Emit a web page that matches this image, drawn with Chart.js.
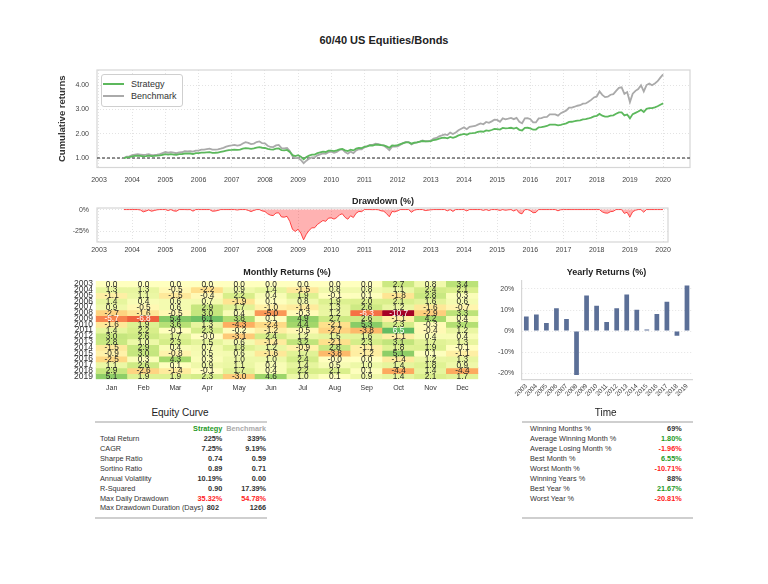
<!DOCTYPE html>
<html><head><meta charset="utf-8">
<script src="https://cdn.jsdelivr.net/npm/chart.js@4.4.1/dist/chart.umd.min.js"></script>
<style>
html,body{margin:0;padding:0;background:#fff;}
body{width:768px;height:584px;position:relative;overflow:hidden;font-family:"Liberation Sans",Arial,sans-serif;color:#333;}
canvas{position:absolute;}
.t{position:absolute;white-space:nowrap;line-height:12px;}
.hl{position:absolute;height:2px;background:#cfcfcf;}
</style></head><body>
<canvas id="cum" width="645" height="130" style="left:55px;top:60px"></canvas>
<canvas id="dd" width="623" height="60" style="left:55px;top:200px"></canvas>
<canvas id="heat" width="440" height="125" style="left:45px;top:275px"></canvas>
<canvas id="yearly" width="210" height="135" style="left:490px;top:275px"></canvas>
<script>
// ---------------- DATA ----------------
const seriesNames = ['Strategy', 'Benchmark'];
const seriesStart = 2003.75; // monthly points from Oct 2003
const strategyCum = [
1.000,
1.027,1.035,1.070,
1.084,1.098,1.092,1.069,1.079,1.094,1.077,1.086,1.095,1.106,1.132,1.156,
1.143,1.156,1.139,1.134,1.159,1.164,1.186,1.185,1.186,1.165,1.198,1.201,
1.218,1.223,1.230,1.238,1.215,1.217,1.226,1.250,1.275,1.302,1.323,1.332,
1.344,1.337,1.345,1.384,1.407,1.393,1.375,1.393,1.428,1.444,1.422,1.412,
1.374,1.352,1.345,1.386,1.391,1.322,1.318,1.333,1.249,1.116,1.083,1.119,
1.055,0.950,1.037,1.100,1.142,1.143,1.199,1.231,1.263,1.249,1.302,1.307,
1.286,1.311,1.358,1.375,1.316,1.285,1.341,1.313,1.383,1.414,1.410,1.462,
1.483,1.515,1.514,1.549,1.546,1.527,1.519,1.478,1.422,1.515,1.509,1.527,
1.573,1.614,1.641,1.641,1.590,1.628,1.648,1.672,1.699,1.681,1.687,1.694,
1.741,1.759,1.799,1.826,1.837,1.811,1.869,1.830,1.872,1.930,1.963,1.988,
1.958,2.015,2.023,2.037,2.074,2.099,2.080,2.138,2.115,2.153,2.194,2.192,
2.172,2.237,2.219,2.230,2.244,2.208,2.245,2.160,2.134,2.243,2.245,2.220,
2.165,2.171,2.265,2.271,2.294,2.317,2.373,2.373,2.373,2.340,2.368,2.399,
2.425,2.488,2.491,2.513,2.541,2.551,2.587,2.600,2.626,2.663,2.711,2.735,
2.814,2.741,2.703,2.700,2.746,2.757,2.818,2.877,2.880,2.753,2.792,2.630,
2.805,2.858,2.912,2.979,2.890,3.023,3.053,3.056,3.084,3.127,3.193,3.247
];
const benchmarkCum = [
1.000,
1.056,1.066,1.122,
1.143,1.159,1.141,1.124,1.139,1.161,1.123,1.127,1.140,1.157,1.204,1.245,
1.217,1.242,1.220,1.197,1.235,1.237,1.283,1.271,1.282,1.261,1.307,1.308,
1.344,1.347,1.364,1.383,1.343,1.345,1.354,1.385,1.421,1.468,1.495,1.516,
1.540,1.509,1.526,1.595,1.649,1.623,1.573,1.596,1.656,1.683,1.611,1.600,
1.505,1.455,1.448,1.520,1.538,1.408,1.397,1.416,1.289,1.073,0.994,1.003,
0.919,0.790,0.891,0.976,1.029,1.031,1.109,1.148,1.191,1.170,1.239,1.263,
1.218,1.255,1.331,1.353,1.244,1.179,1.262,1.204,1.311,1.362,1.361,1.452,
1.488,1.537,1.538,1.585,1.566,1.540,1.509,1.426,1.325,1.470,1.465,1.480,
1.547,1.613,1.666,1.656,1.555,1.619,1.642,1.677,1.721,1.689,1.697,1.711,
1.801,1.823,1.892,1.929,1.972,1.946,2.045,1.985,2.047,2.141,2.205,2.260,
2.184,2.281,2.301,2.319,2.372,2.421,2.388,2.482,2.447,2.508,2.574,2.567,
2.492,2.633,2.591,2.617,2.649,2.598,2.653,2.491,2.429,2.635,2.640,2.598,
2.470,2.464,2.630,2.642,2.686,2.693,2.793,2.794,2.795,2.745,2.844,2.900,
2.957,3.072,3.076,3.109,3.150,3.170,3.237,3.244,3.312,3.391,3.492,3.532,
3.737,3.597,3.506,3.521,3.603,3.626,3.762,3.882,3.905,3.640,3.711,3.300,
3.648,3.763,3.836,3.994,3.737,4.001,4.060,3.993,4.069,4.158,4.307,4.437
];
const drawdownPct = [
0,
0,0,0,
0,0,-0.5,-2.6,-1.7,-0.4,-1.9,-1.1,-0.3,0,0,0,
-1.1,0,-1.5,-1.9,0,0,0,-0.1,0,-1.8,0,0,
0,0,0,0,-1.9,-1.7,-1.0,0,0,0,0,0,
0,-0.5,0,0,0,-1.0,-2.3,-1.0,0,0,-1.5,-2.2,
-4.8,-6.4,-6.9,-4.0,-3.7,-8.4,-8.7,-7.7,-13.5,-22.7,-25.0,-22.5,
-26.9,-34.6,-28.2,-23.8,-20.9,-20.8,-17.0,-14.8,-12.5,-13.5,-9.8,-9.5,
-10.9,-9.2,-6.0,-4.8,-8.9,-11.0,-7.1,-9.1,-4.2,-2.1,-2.4,0,
0,0,-0.1,0,-0.2,-1.4,-1.9,-4.6,-8.2,-2.2,-2.6,-1.4,
0,0,0,0,-3.1,-0.8,0,0,0,-1.1,-0.7,-0.3,
0,0,0,0,0,-1.4,0,-2.1,0,0,0,0,
-1.5,0,0,0,0,0,-0.9,0,-1.1,0,0,-0.1,
-1.0,0,-0.8,-0.3,0,-1.6,0,-3.8,-4.9,-0.1,0,-1.1,
-3.6,-3.3,0,0,0,0,0,0,0,-1.4,-0.2,0,
0,0,0,0,0,0,0,0,0,0,0,0,
0,-2.6,-3.9,-4.1,-2.4,-2.0,0,0,0,-4.4,-3.1,-8.7,
-2.6,-0.8,0,0,-3.0,0,0,0,0,0,0,0
];
const baseline = 1.0;
const yearTicks = [2003,2004,2005,2006,2007,2008,2009,2010,2011,2012,2013,2014,2015,2016,2017,2018,2019,2020];
const cumTicks = [1,2,3,4];
const ddTicks = [0,-25];

const monthLabels = ['Jan','Feb','Mar','Apr','May','Jun','Jul','Aug','Sep','Oct','Nov','Dec'];
const heatYears = ['2003','2004','2005','2006','2007','2008','2009','2010','2011','2012','2013','2014','2015','2016','2017','2018','2019'];
const monthlyReturns = [
[0.0,0.0,0.0,0.0,0.0,0.0,0.0,0.0,0.0,2.7,0.8,3.4],
[1.3,1.3,-0.5,-2.2,0.9,1.4,-1.5,0.8,0.8,1.1,2.4,2.1],
[-1.1,1.1,-1.5,-0.4,2.2,0.4,1.9,-0.1,0.1,-1.8,2.8,0.3],
[1.4,0.4,0.6,0.7,-1.9,0.1,0.8,1.9,2.0,2.1,1.6,0.6],
[0.9,-0.5,0.6,2.9,1.7,-1.0,-1.4,1.3,2.6,1.2,-1.6,-0.7],
[-2.7,-1.6,-0.5,3.0,0.4,-5.0,-0.3,1.2,-6.3,-10.7,-2.9,3.3],
[-5.7,-6.8,5.4,6.1,3.8,0.1,4.9,2.7,2.6,-1.1,4.2,0.4],
[-1.6,1.9,3.6,1.3,-4.3,-2.4,4.4,-2.1,5.3,2.3,-0.3,3.7],
[1.4,2.2,-0.1,2.3,-0.2,-1.2,-0.5,-2.7,-3.8,6.5,-0.4,1.2],
[3.0,2.6,1.7,-0.04,-3.1,2.4,1.2,1.5,1.6,-1.1,0.4,0.4],
[2.8,1.0,2.3,1.5,0.6,-1.4,3.2,-2.1,2.3,3.1,1.7,1.3],
[-1.5,2.9,0.4,0.7,1.8,1.2,-0.9,2.8,-1.1,1.8,1.9,-0.1],
[-0.9,3.0,-0.8,0.5,0.6,-1.6,1.7,-3.8,-1.2,5.1,0.1,-1.1],
[-2.5,0.3,4.3,0.3,1.0,1.0,2.4,-0.04,0.0,-1.4,1.2,1.3],
[1.1,2.6,0.1,0.9,1.1,0.4,1.4,0.5,1.0,1.4,1.8,0.9],
[2.9,-2.6,-1.4,-0.1,1.7,0.4,2.2,2.1,0.1,-4.4,1.4,-4.4],
[5.1,1.9,1.9,2.3,-3.0,4.6,1.0,0.1,0.9,1.4,2.1,1.7]
];
const heatRange = 10.71;

const yearlyLabels = ['2003','2004','2005','2006','2007','2008','2009','2010','2011','2012','2013','2014','2015','2016','2017','2018','2019'];
const yearlyReturns = [6.9,7.9,3.8,10.9,5.8,-20.81,16.9,12.0,4.3,10.9,17.4,10.2,0.8,8.1,13.9,-2.2,21.67];
const yearlyTicks = [-20,-10,0,10,20];

const equityLabels = ['Total Return','CAGR','Sharpe Ratio','Sortino Ratio','Annual Volatility','R-Squared','Max Daily Drawdown','Max Drawdown Duration (Days)'];
const equityStrategy = ['225%','7.25%','0.74','0.89','10.19%','0.90','35.32%','802'];
const equityBenchmark = ['339%','9.19%','0.59','0.71','0.00','17.39%','54.78%','1266'];
const timeLabels = ['Winning Months %','Average Winning Month %','Average Losing Month %','Best Month %','Worst Month %','Winning Years %','Best Year %','Worst Year %'];
const timeValues = ['69%','1.80%','-1.96%','6.55%','-10.71%','88%','21.67%','-20.81%'];
const timeTone = ['n','g','r','g','r','n','g','r'];

// ---------------- STYLE ----------------
const FONT = '"Liberation Sans", Arial, sans-serif';
Chart.defaults.font.family = FONT;
Chart.defaults.color = '#444';
const GREEN = '#5cb85c', GRAY = '#aaaaaa', TXTGREEN = '#1f9a1f', TXTRED = '#ff2222';
const colorsLine = [GREEN, GRAY];

const toPts = arr => arr.map((v, i) => ({x: seriesStart + i / 12, y: v}));

const framePlugin = {
  id: 'frame',
  beforeDatasetsDraw(chart, args, opts) {
    if (!opts || !opts.color) return;
    const a = chart.chartArea, ctx = chart.ctx;
    ctx.save(); ctx.strokeStyle = opts.color; ctx.lineWidth = opts.width || 1;
    ctx.strokeRect(a.left, a.top, a.right - a.left, a.bottom - a.top);
    ctx.restore();
  }
};
function fitX(h){ return s => { s.height = h; s.paddingLeft = 0; s.paddingRight = 0; }; }
function fitY(w){ return s => { s.width = w; s.paddingTop = 0; s.paddingBottom = 0; }; }
const dotted = {color:'#e3e3e3', lineWidth:1, drawTicks:false};

// ---------------- CUMULATIVE ----------------
const cumXmin = 2002.94, cumXmax = 2020.81;
new Chart(document.getElementById('cum'), {
  type: 'line',
  data: {datasets: [
    {label: seriesNames[0], data: toPts(strategyCum), borderColor: GREEN, borderWidth: 1.8, pointRadius: 0, order: 1},
    {label: seriesNames[1], data: toPts(benchmarkCum), borderColor: GRAY, borderWidth: 1.8, pointRadius: 0, order: 2},
    {label: 'base', data: [{x: cumXmin, y: baseline}, {x: cumXmax, y: baseline}], borderColor: '#222', borderWidth: 1.1, borderDash: [3, 2], pointRadius: 0, order: 3}
  ]},
  options: {
    animation: false, responsive: false,
    layout: {padding: {top: 10, right: 10, left: 0, bottom: 0}},
    plugins: {legend: {display: false}, tooltip: {enabled: false}, frame: {color: '#d6d6d6', width: 1.2}},
    scales: {
      x: {type: 'linear', min: cumXmin, max: cumXmax,
          afterBuildTicks: s => { s.ticks = yearTicks.map(v => ({value: v})); },
          afterFit: fitX(22.5),
          ticks: {callback: v => String(v), font: {size: 7}, color: '#444', padding: 8, maxRotation: 0, autoSkip: false},
          grid: dotted, border: {display: false, dash: [1, 2]}},
      y: {type: 'linear', min: 0.61, max: 4.62,
          afterBuildTicks: s => { s.ticks = cumTicks.map(v => ({value: v})); },
          afterFit: fitY(42),
          title: {display: true, text: 'Cumulative returns', font: {size: 9.5, weight: 'bold'}, color: '#333', padding: {top: 2, bottom: 0}},
          ticks: {callback: v => v.toFixed(2), font: {size: 7}, color: '#444', padding: 8},
          grid: dotted, border: {display: false, dash: [1, 2]}}
    }
  },
  plugins: [framePlugin]
});

// ---------------- DRAWDOWN ----------------
new Chart(document.getElementById('dd'), {
  type: 'line',
  data: {datasets: [
    {label: 'Drawdown', data: toPts(drawdownPct), borderColor: 'rgba(255,40,40,0.85)', backgroundColor: 'rgba(255,0,0,0.3)', fill: 'origin', borderWidth: 1, pointRadius: 0}
  ]},
  options: {
    animation: false, responsive: false,
    layout: {padding: {top: 8, right: 10, left: 0, bottom: 0}},
    plugins: {legend: {display: false}, tooltip: {enabled: false}, frame: {color: '#d6d6d6', width: 1.2}},
    scales: {
      x: {type: 'linear', min: cumXmin, max: 2020.15,
          afterBuildTicks: s => { s.ticks = yearTicks.map(v => ({value: v})); },
          afterFit: fitX(18),
          ticks: {callback: v => String(v), font: {size: 7}, color: '#444', padding: 4, maxRotation: 0, autoSkip: false},
          grid: dotted, border: {display: false, dash: [1, 2]}},
      y: {type: 'linear', min: -37.1, max: 1.8,
          afterBuildTicks: s => { s.ticks = ddTicks.map(v => ({value: v})); },
          afterFit: fitY(42),
          ticks: {callback: v => v + '%', font: {size: 7}, color: '#444', padding: 8},
          grid: dotted, border: {display: false, dash: [1, 2]}}
    }
  },
  plugins: [framePlugin]
});

// ---------------- HEATMAP ----------------
const RdYlGn = ['#a50026','#d73027','#f46d43','#fdae61','#fee08b','#ffffbf','#d9ef8b','#a6d96a','#66bd63','#1a9850','#006837'];
const hex = h => [parseInt(h.slice(1,3),16), parseInt(h.slice(3,5),16), parseInt(h.slice(5,7),16)];
function heatRGB(v) {
  let t = (v + heatRange) / (2 * heatRange); t = Math.max(0, Math.min(1, t));
  const p = t * 10, i = Math.min(9, Math.floor(p)), f = p - i;
  const a = hex(RdYlGn[i]), b = hex(RdYlGn[i + 1]);
  return a.map((c, k) => Math.round(c + (b[k] - c) * f));
}
function lum(rgb) {
  const l = rgb.map(c => { c /= 255; return c <= 0.03928 ? c / 12.92 : Math.pow((c + 0.055) / 1.055, 2.4); });
  return 0.2126 * l[0] + 0.7152 * l[1] + 0.0722 * l[2];
}
const cellText = {
  id: 'cellText',
  afterDatasetsDraw(chart) {
    const ctx = chart.ctx;
    ctx.save();
    ctx.font = '8.3px ' + FONT; ctx.textAlign = 'center'; ctx.textBaseline = 'middle';
    chart.data.datasets.forEach((ds, i) => {
      chart.getDatasetMeta(i).data.forEach((bar, j) => {
        const v = monthlyReturns[i][j];
        ctx.fillStyle = lum(heatRGB(v)) > 0.408 ? '#262626' : '#ffffff';
        ctx.fillText(v.toFixed(1), bar.x, (bar.y + bar.base) / 2 + 0.5);
      });
    });
    ctx.restore();
  }
};
new Chart(document.getElementById('heat'), {
  type: 'bar',
  data: {labels: monthLabels, datasets: heatYears.map((yr, i) => ({
    label: yr, data: monthlyReturns[i].map(() => 1), stack: 'cells',
    backgroundColor: monthlyReturns[i].map(v => 'rgb(' + heatRGB(v).join(',') + ')'),
    borderWidth: 0, barPercentage: 1, categoryPercentage: 1, inflateAmount: 0.4
  }))},
  options: {
    animation: false, responsive: false,
    layout: {padding: {top: 6, right: 6.7, left: 0, bottom: 0}},
    plugins: {legend: {display: false}, tooltip: {enabled: false}},
    scales: {
      x: {stacked: true, afterFit: fitX(20.7), grid: {display: false, drawTicks: false}, border: {display: false},
          ticks: {font: {size: 7}, color: '#333', padding: 4.5}},
      y: {type: 'linear', stacked: true, min: 0, max: 17, reverse: true,
          afterBuildTicks: s => { s.ticks = heatYears.map((y, i) => ({value: i + 0.5})); },
          afterFit: fitY(50.7), grid: {display: false, drawTicks: false}, border: {display: false},
          ticks: {callback: v => heatYears[Math.floor(v)], font: {size: 8.5}, color: '#333', padding: 2.7, autoSkip: false}}
    }
  },
  plugins: [cellText]
});

// ---------------- YEARLY ----------------
new Chart(document.getElementById('yearly'), {
  type: 'bar',
  data: {labels: yearlyLabels, datasets: [{data: yearlyReturns, backgroundColor: '#5b6f97', barPercentage: 0.47, categoryPercentage: 1}]},
  options: {
    animation: false, responsive: false,
    layout: {padding: {top: 6, right: 8, left: 0, bottom: 0}},
    plugins: {legend: {display: false}, tooltip: {enabled: false}},
    scales: {
      x: {afterFit: fitX(30.7), grid: {display: false, drawTicks: false}, border: {display: true, color: '#d6d6d6', width: 1.2},
          ticks: {font: {size: 6.5}, color: '#444', padding: 3, minRotation: 45, maxRotation: 45, autoSkip: false}},
      y: {type: 'linear', min: -22.9, max: 23.8,
          afterBuildTicks: s => { s.ticks = yearlyTicks.map(v => ({value: v})); },
          afterFit: fitY(31.3),
          ticks: {callback: v => v + '%', font: {size: 7}, color: '#444', padding: 7},
          grid: dotted, border: {display: true, color: '#d6d6d6', width: 1.2, dash: [1, 2]}}
    }
  }
});

// ---------------- TEXT / TABLES ----------------
function addText(txt, x, y, o) {
  o = o || {};
  const d = document.createElement('div');
  d.className = 't'; d.textContent = txt;
  d.style.fontSize = (o.size || 7.3) + 'px';
  d.style.fontWeight = o.bold ? 'bold' : 'normal';
  d.style.color = o.color || '#333';
  d.style.top = (y - 6) + 'px';
  if (o.align === 'right') { d.style.left = (x - 150) + 'px'; d.style.width = '150px'; d.style.textAlign = 'right'; }
  else if (o.align === 'center') { d.style.left = (x - 200) + 'px'; d.style.width = '400px'; d.style.textAlign = 'center'; }
  else d.style.left = x + 'px';
  document.body.appendChild(d);
}
function hline(x1, x2, y) {
  const d = document.createElement('div'); d.className = 'hl';
  d.style.left = x1 + 'px'; d.style.width = (x2 - x1) + 'px'; d.style.top = (y - 1) + 'px';
  document.body.appendChild(d);
}
addText('60/40 US Equities/Bonds', 384, 40, {size: 11, bold: true, color: '#222', align: 'center'});
addText('Drawdown (%)', 383, 201, {size: 9, bold: true, color: '#222', align: 'center'});
addText('Monthly Returns (%)', 287, 272, {size: 9, bold: true, color: '#222', align: 'center'});
addText('Yearly Returns (%)', 606.5, 272, {size: 9, bold: true, color: '#222', align: 'center'});

// legend
(function(){
  const box = document.createElement('div');
  box.style.cssText = 'position:absolute;left:100.5px;top:74px;width:80px;height:31px;border:1px solid #cfcfcf;border-radius:3px;background:#fff;';
  document.body.appendChild(box);
  seriesNames.forEach((n, i) => {
    const y = 83.5 + i * 12.7;
    const sw = document.createElement('div');
    sw.style.cssText = 'position:absolute;left:103px;width:21px;height:2.2px;top:' + (y - 1) + 'px;background:' + colorsLine[i] + ';';
    document.body.appendChild(sw);
    addText(n, 131, y, {size: 9, color: '#333'});
  });
})();

// equity curve table
addText('Equity Curve', 180, 413.3, {size: 10, color: '#222', align: 'center'});
hline(95, 267, 421.7);
addText('Strategy', 222.3, 429.3, {bold: true, color: TXTGREEN, align: 'right'});
addText('Benchmark', 266, 429.3, {bold: true, color: GRAY, align: 'right'});
equityLabels.forEach((l, i) => {
  const y = 439.4 + i * 9.85;
  const red = l === 'Max Daily Drawdown';
  addText(l, 100, y, {color: '#333'});
  addText(equityStrategy[i], i === 7 ? 219 : 222.3, y, {bold: true, color: red ? TXTRED : '#333', align: 'right'});
  addText(equityBenchmark[i], 266, y, {bold: true, color: red ? TXTRED : '#333', align: 'right'});
});
hline(95, 267, 518.3);

// time table
addText('Time', 605.7, 412.7, {size: 10, color: '#222', align: 'center'});
hline(521.7, 693.3, 421.7);
timeLabels.forEach((l, i) => {
  const y = 429.3 + i * 9.9;
  addText(l, 530, y, {color: '#333'});
  const c = timeTone[i] === 'g' ? TXTGREEN : timeTone[i] === 'r' ? TXTRED : '#333';
  addText(timeValues[i], 681.7, y, {bold: true, color: c, align: 'right'});
});
hline(521.7, 693.3, 518.3);
</script>
</body></html>
